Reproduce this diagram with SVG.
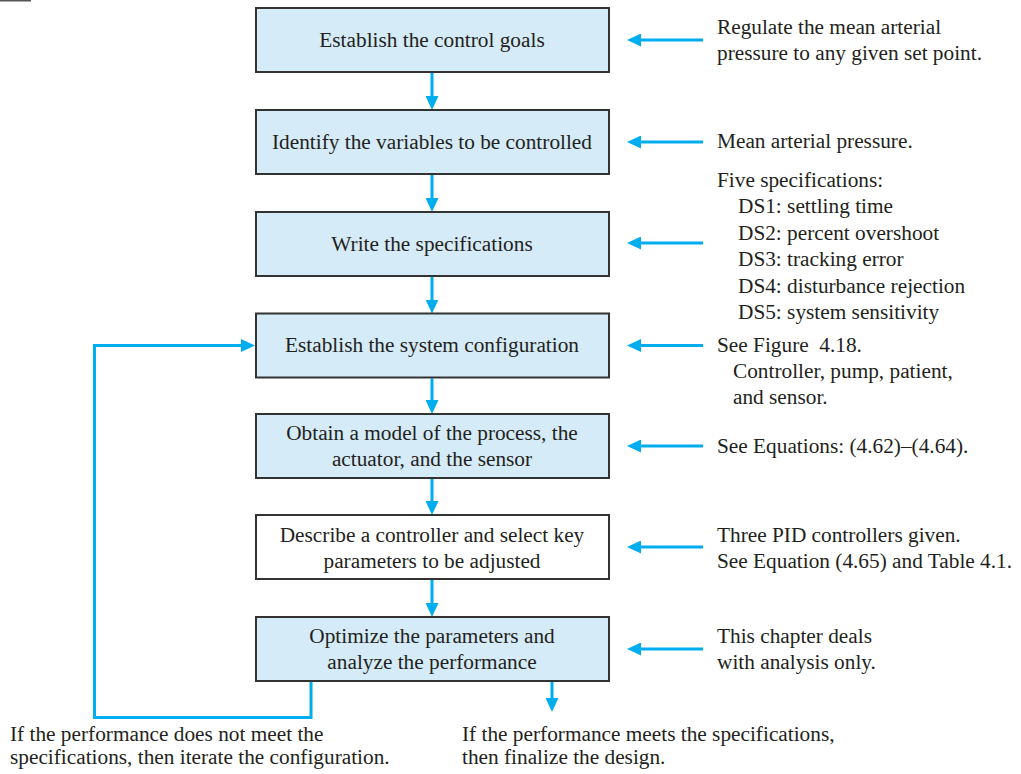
<svg xmlns="http://www.w3.org/2000/svg" width="1021" height="774" viewBox="0 0 1021 774">
<defs>
<style>
.box{fill:#d5ebf8;stroke:#333;stroke-width:2}
.wbox{fill:#fff;stroke:#333;stroke-width:2}
.t{font-family:"Liberation Serif","Times New Roman",serif;font-size:21.3px;fill:#231f20}
.c{text-anchor:middle}
.conn{fill:none;stroke:#00aeef;stroke-width:3;stroke-linejoin:miter}
</style>
<marker id="ah" viewBox="0 0 14 13" refX="2" refY="6.5" markerWidth="14" markerHeight="13" markerUnits="userSpaceOnUse" orient="auto">
<path d="M0,0 L14,6.5 L0,13 z" fill="#00aeef"/>
</marker>
</defs>
<rect x="0" y="0" width="31" height="1.5" fill="#555"/>
<g id="connectors">
<path class="conn" d="M432,73 V98" marker-end="url(#ah)"/>
<path class="conn" d="M432,175 V200" marker-end="url(#ah)"/>
<path class="conn" d="M432,277 V301.5" marker-end="url(#ah)"/>
<path class="conn" d="M432,378.5 V402" marker-end="url(#ah)"/>
<path class="conn" d="M432,479 V503" marker-end="url(#ah)"/>
<path class="conn" d="M432,580 V605" marker-end="url(#ah)"/>
<path class="conn" d="M552,682 V700" marker-end="url(#ah)"/>
<path class="conn" d="M311,682 V717.5 H94.5 V345.5 H243" marker-end="url(#ah)"/>
<path class="conn" d="M703,40 H639" marker-end="url(#ah)"/>
<path class="conn" d="M703,142 H639" marker-end="url(#ah)"/>
<path class="conn" d="M703,243 H639" marker-end="url(#ah)"/>
<path class="conn" d="M703,345.5 H639" marker-end="url(#ah)"/>
<path class="conn" d="M703,446 H639" marker-end="url(#ah)"/>
<path class="conn" d="M703,547 H639" marker-end="url(#ah)"/>
<path class="conn" d="M703,649 H639" marker-end="url(#ah)"/>
</g>
<g id="n1"><rect class="box" x="256" y="8" width="353" height="64"/><text class="t c" x="432" y="47">Establish the control goals</text></g>
<g id="n2"><rect class="box" x="256" y="110" width="353" height="64"/><text class="t c" x="432" y="149">Identify the variables to be controlled</text></g>
<g id="n3"><rect class="box" x="256" y="212" width="353" height="64"/><text class="t c" x="432" y="251">Write the specifications</text></g>
<g id="n4"><rect class="box" x="256" y="313.5" width="353" height="64"/><text class="t c" x="432" y="352">Establish the system configuration</text></g>
<g id="n5"><rect class="box" x="256" y="414" width="353" height="64"/><text class="t c" x="432" y="439.5">Obtain a model of the process, the</text><text class="t c" x="432" y="465.5">actuator, and the sensor</text></g>
<g id="n6"><rect class="wbox" x="256" y="515" width="353" height="64"/><text class="t c" x="432" y="541.5">Describe a controller and select key</text><text class="t c" x="432" y="567.5">parameters to be adjusted</text></g>
<g id="n7"><rect class="box" x="256" y="617" width="353" height="64"/><text class="t c" x="432" y="643">Optimize the parameters and</text><text class="t c" x="432" y="668.5">analyze the performance</text></g>
<g id="notes">
<text class="t" x="717" y="34">Regulate the mean arterial</text>
<text class="t" x="717" y="60">pressure to any given set point.</text>
<text class="t" x="717" y="148">Mean arterial pressure.</text>
<text class="t" x="717" y="187">Five specifications:</text>
<text class="t" x="738" y="213">DS1: settling time</text>
<text class="t" x="738" y="239.5">DS2: percent overshoot</text>
<text class="t" x="738" y="266">DS3: tracking error</text>
<text class="t" x="738" y="292.5">DS4: disturbance rejection</text>
<text class="t" x="738" y="319">DS5: system sensitivity</text>
<text class="t" x="717" y="352" xml:space="preserve">See Figure  4.18.</text>
<text class="t" x="733" y="378">Controller, pump, patient,</text>
<text class="t" x="733" y="404">and sensor.</text>
<text class="t" x="717" y="453">See Equations: (4.62)–(4.64).</text>
<text class="t" x="717" y="542">Three PID controllers given.</text>
<text class="t" x="717" y="568">See Equation (4.65) and Table 4.1.</text>
<text class="t" x="717" y="643">This chapter deals</text>
<text class="t" x="717" y="668.5">with analysis only.</text>
<text class="t" x="10" y="741">If the performance does not meet the</text>
<text class="t" x="10" y="763.5">specifications, then iterate the configuration.</text>
<text class="t" x="462" y="741">If the performance meets the specifications,</text>
<text class="t" x="462" y="763.5">then finalize the design.</text>
</g>
</svg>
